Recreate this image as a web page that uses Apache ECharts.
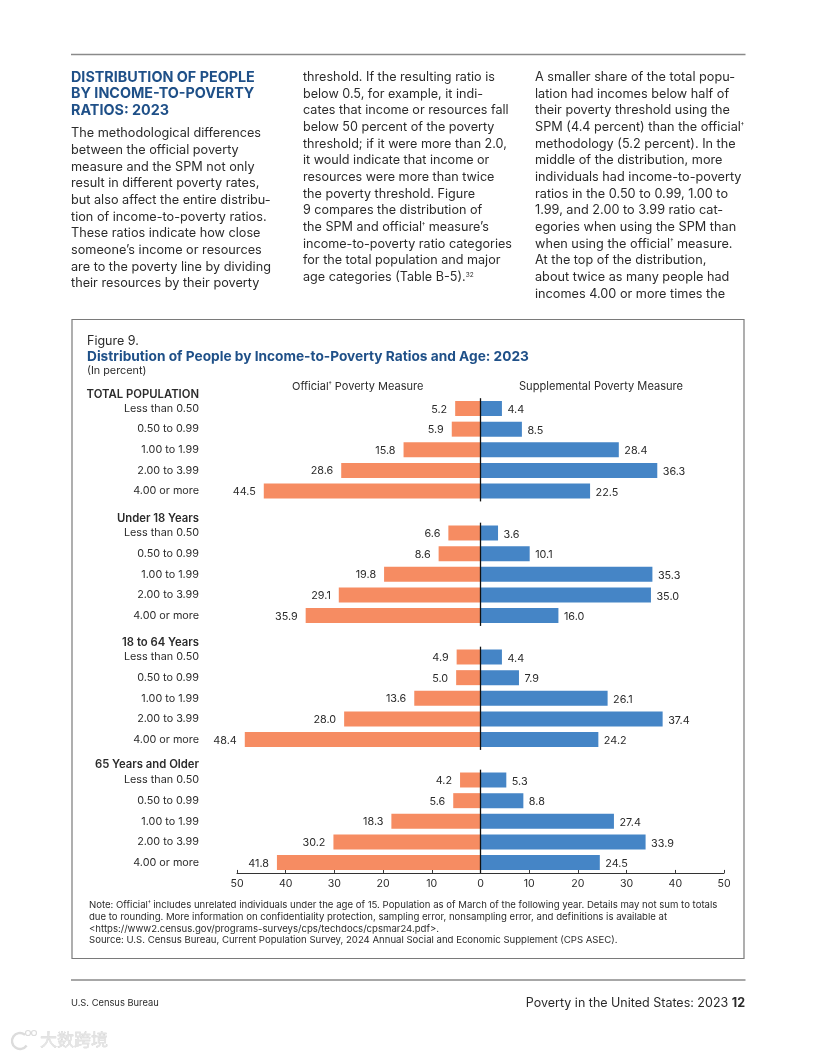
<!DOCTYPE html>
<html><head><meta charset="utf-8">
<style>html,body{margin:0;padding:0;background:#fff}#c{width:816px;height:1056px}</style>
<script src="https://cdn.jsdelivr.net/npm/echarts@6/dist/echarts.min.js"></script>
</head><body><div id="c"></div>
<script>
const categories = ['Less than 0.50','0.50 to 0.99','1.00 to 1.99','2.00 to 3.99','4.00 or more'];
const groupNames = ['TOTAL POPULATION','Under 18 Years','18 to 64 Years','65 Years and Older'];
const officialTotal = [5.2,5.9,15.8,28.6,44.5];
const officialUnder18 = [6.6,8.6,19.8,29.1,35.9];
const official18to64 = [4.9,5.0,13.6,28.0,48.4];
const official65 = [4.2,5.6,18.3,30.2,41.8];
const spmTotal = [4.4,8.5,28.4,36.3,22.5];
const spmUnder18 = [3.6,10.1,35.3,35.0,16.0];
const spm18to64 = [4.4,7.9,26.1,37.4,24.2];
const spm65 = [5.3,8.8,27.4,33.9,24.5];
const officialGroups = [officialTotal,officialUnder18,official18to64,official65];
const spmGroups = [spmTotal,spmUnder18,spm18to64,spm65];
const tickInterval = 10;

const col1Title = ['DISTRIBUTION OF PEOPLE','BY INCOME-TO-POVERTY','RATIOS: 2023'];
const col1 = ['The methodological differences','between the official poverty','measure and the SPM not only','result in different poverty rates,','but also affect the entire distribu-','tion of income-to-poverty ratios.','These ratios indicate how close','someone’s income or resources','are to the poverty line by dividing','their resources by their poverty'];
const col2 = ['threshold. If the resulting ratio is','below 0.5, for example, it indi-','cates that income or resources fall','below 50 percent of the poverty','threshold; if it were more than 2.0,','it would indicate that income or','resources were more than twice','the poverty threshold. Figure','9 compares the distribution of','the SPM and official{s|†} measure’s','income-to-poverty ratio categories','for the total population and major','age categories (Table B-5).{s|32}'];
const col3 = ['A smaller share of the total popu-','lation had incomes below half of','their poverty threshold using the','SPM (4.4 percent) than the official{s|†}','methodology (5.2 percent). In the','middle of the distribution, more','individuals had income-to-poverty','ratios in the 0.50 to 0.99, 1.00 to','1.99, and 2.00 to 3.99 ratio cat-','egories when using the SPM than','when using the official{s|†} measure.','At the top of the distribution,','about twice as many people had','incomes 4.00 or more times the'];
const notes = ['Note: Official{s|†} includes unrelated individuals under the age of 15. Population as of March of the following year. Details may not sum to totals','due to rounding. More information on confidentiality protection, sampling error, nonsampling error, and definitions is available at','<https://www2.census.gov/programs-surveys/cps/techdocs/cpsmar24.pdf>.','Source: U.S. Census Bureau, Current Population Survey, 2024 Annual Social and Economic Supplement (CPS ASEC).'];

const FF = 'Inter, "Noto Sans", sans-serif';
const ORANGE = '#F68C62', BLUE = '#4585C6', INK = '#2b2b2b', NAVY = '#1F5088';
const groupCenters = [408.5,533,657,780];
const groupHeaderY = [394.5,519,643,765];
const rowH = 20.65;

const grids=[],xAxes=[],yAxes=[],series=[];
groupNames.forEach((g,i)=>{
  const last = i===groupNames.length-1;
  grids.push({left:237,right:92,top:groupCenters[i]-rowH/2,height:rowH*5});
  xAxes.push({gridIndex:i,type:'value',min:-50,max:50,interval:tickInterval,show:last,position:'bottom',
    splitLine:{show:false},
    axisLine:{show:true,onZero:false,lineStyle:{color:'#333',width:1}},
    axisTick:{show:true,inside:true,length:3,lineStyle:{color:'#333',width:1}},
    axisLabel:{color:INK,fontSize:10.6,fontFamily:FF,margin:5,formatter:v=>String(Math.abs(v))}});
  yAxes.push({gridIndex:i,type:'category',inverse:true,data:categories,
    axisLine:{show:false,onZero:false},axisTick:{show:false},splitLine:{show:false},
    axisLabel:{color:INK,fontSize:10.8,fontFamily:FF,margin:38,align:'right',padding:[4,0,0,0]}});
  series.push({type:'bar',name:'Official',xAxisIndex:i,yAxisIndex:i,barWidth:15,barGap:'-100%',silent:true,
    data:officialGroups[i].map(v=>-v),itemStyle:{color:ORANGE},
    label:{show:true,position:'left',distance:8,offset:[0,0.8],color:INK,fontSize:10.8,fontFamily:FF,formatter:p=>Math.abs(p.value).toFixed(1)},
    markLine:{silent:true,symbol:'none',label:{show:false},animation:false,lineStyle:{color:'#111',width:1.3,type:'solid'},data:[{xAxis:0}]},
    animation:false});
  series.push({type:'bar',name:'SPM',xAxisIndex:i,yAxisIndex:i,barWidth:15,barGap:'-100%',silent:true,
    data:spmGroups[i],itemStyle:{color:BLUE},
    label:{show:true,position:'right',distance:5.5,offset:[0,1.4],color:INK,fontSize:10.8,fontFamily:FF,formatter:p=>p.value.toFixed(1)},
    animation:false});
});

function text(x,y,t,o={}){
  return {type:'text',x,y,silent:true,z:5,style:Object.assign({text:t,fontFamily:FF,fontSize:11.5,fill:INK,textVerticalAlign:'middle',verticalAlign:'middle',rich:{s:{fontSize:(o.supSize||6.5),padding:[0,0,(o.supUp||5),0],fill:INK,fontFamily:FF}}},o.style||{})};
}
const g=[];
const lineEl=(x1,y1,x2,y2,c,w)=>({type:'line',silent:true,shape:{x1,y1,x2,y2},style:{stroke:c,lineWidth:w}});
g.push(lineEl(71,54.5,745.5,54.5,'#8a8a8a',1.5));
g.push(lineEl(71,980,745.5,980,'#8a8a8a',1.5));
g.push({type:'rect',silent:true,shape:{x:72,y:319.5,width:672,height:639},style:{fill:'none',stroke:'#7a7a7a',lineWidth:1.2}});
col1Title.forEach((t,i)=>g.push(text(71,77.2+i*16.5,t,{style:{fill:NAVY,fontWeight:700,fontSize:14.35}})));
col1.forEach((t,i)=>g.push(text(71,133.6+i*16.67,t,{style:{fontSize:12.7}})));
col2.forEach((t,i)=>g.push(text(303,77.2+i*16.67,t,{style:{fontSize:12.6}})));
col3.forEach((t,i)=>g.push(text(535,77.2+i*16.67,t,{style:{fontSize:12.7}})));
g.push(text(87,341.5,'Figure 9.',{style:{fontSize:12.5}}));
g.push(text(87,357,'Distribution of People by Income-to-Poverty Ratios and Age: 2023',{style:{fontSize:13.7,fontWeight:700,fill:NAVY}}));
g.push(text(87,370.5,'(In percent)',{style:{fontSize:10.8}}));
g.push(text(292,386.5,'Official{s|†} Poverty Measure',{style:{fontSize:11}}));
g.push(text(519,386.5,'Supplemental Poverty Measure',{style:{fontSize:11.1}}));
groupNames.forEach((t,i)=>g.push(text(199,groupHeaderY[i],t,{style:{fontSize:11.3,fontWeight:600,textAlign:'right',align:'right'}})));
notes.forEach((t,i)=>g.push(text(89,905.5+i*11.7,t,{supSize:5.5,supUp:4,style:{fontSize:9.58}})));
g.push(text(71,1003.5,'U.S. Census Bureau',{style:{fontSize:9.35}}));
g.push(text(745,1003,'Poverty in the United States: 2023 {b|12}',{style:{fontSize:12.5,align:'right',textAlign:'right',rich:{b:{fontWeight:700,fontSize:12.5,fill:INK,fontFamily:FF}}}}));
g.push({type:'text',x:40,y:1040,silent:true,style:{text:'大数跨境',fontFamily:'"Noto Sans CJK SC"',fontSize:17,fill:'#e4e4e4',stroke:'#c8c8c8',lineWidth:0.4,verticalAlign:'middle',textVerticalAlign:'middle'}});
g.push({type:'arc',silent:true,shape:{cx:20,cy:1041,r:8,startAngle:0.6,endAngle:5.4},style:{fill:'none',stroke:'#dcdcdc',lineWidth:2.4}});
g.push({type:'circle',silent:true,shape:{cx:28,cy:1033,r:2.5},style:{fill:'none',stroke:'#dcdcdc',lineWidth:1.2}});
g.push({type:'circle',silent:true,shape:{cx:34,cy:1033,r:2.5},style:{fill:'none',stroke:'#dcdcdc',lineWidth:1.2}});

const chart = echarts.init(document.getElementById('c'),null,{renderer:'canvas',width:816,height:1056});
chart.setOption({animation:false,backgroundColor:'#fff',grid:grids,xAxis:xAxes,yAxis:yAxes,series,graphic:{elements:g}});
</script></body></html>
